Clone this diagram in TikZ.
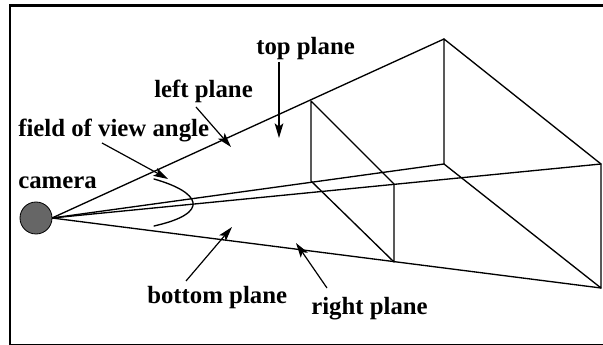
\documentclass[tikz,border=0pt]{standalone}
\usepackage{fontspec}
\setmainfont{Liberation Serif}
\usepackage{tikz}
\usetikzlibrary{arrows.meta}
\definecolor{cameragray}{RGB}{102, 102, 102}
\tikzset{
  planelabel/.style={anchor=base west, inner sep=0pt, font=\fontsize{18.6}{20}\selectfont\bfseries},
  edgeline/.style={line width=1pt, line cap=round, line join=round},
  pointer/.style={-{Stealth[length=11pt, width=6.5pt, inset=2.5pt]}, line width=0.9pt}
}

\begin{document}
\begin{tikzpicture}[x=0.75pt, y=-0.75pt]

  \useasboundingbox (0, 0) rectangle (603, 345);

  % Frame
  \draw[line width=1.6pt] (10, 345) -- (10, 5.5);
  \draw[line width=2.5pt] (9, 5.5) -- (603, 5.5);
  \draw[line width=0.9pt] (10, 344.2) -- (603, 344.2);

  % Frustum corners
  \coordinate (apex) at (52, 218);
  \coordinate (nearTL) at (311, 101);
  \coordinate (nearBL) at (311, 181);
  \coordinate (nearTR) at (394, 184);
  \coordinate (nearBR) at (394, 262);
  \coordinate (farTL) at (444, 39);
  \coordinate (farBL) at (444, 164);
  \coordinate (farTR) at (601, 164);
  \coordinate (farBR) at (601, 288);

  % Rays from the camera
  \draw[edgeline] (apex) -- (farTL);
  \draw[edgeline] (apex) -- (farBL);
  \draw[edgeline] (apex) -- (farTR);
  \draw[edgeline] (apex) -- (farBR);

  % Near plane
  \draw[edgeline] (nearTL) -- (nearBL) -- (nearBR) -- (nearTR) -- cycle;

  % Far plane
  \draw[edgeline] (farTL) -- (farBL) -- (farBR) -- (farTR) -- cycle;

  % Camera
  \node[circle, draw, fill=cameragray, line width=0.6pt, minimum size=24pt, inner sep=0pt] (camera) at (36, 218) {};

  % Angle
  \draw[edgeline] (154, 179) .. controls (200, 192) and (212, 213) .. (154, 226);

  % Labels
  \node[planelabel] (topLabel) at (256, 55) {top plane};
  \node[planelabel] (leftLabel) at (154, 98) {left plane};
  \node[planelabel] (angleLabel) at (18, 137) {field of view angle};
  \node[planelabel] (cameraLabel) at (18, 189) {camera};
  \node[planelabel] (bottomLabel) at (147, 303) {bottom plane};
  \node[planelabel] (rightLabel) at (311, 315) {right plane};

  % Pointer ends
  \coordinate (topFrom) at (279, 62);
  \coordinate (topTip) at (279, 138);
  \coordinate (leftFrom) at (196, 107);
  \coordinate (leftTip) at (231, 147);
  \coordinate (angleFrom) at (102, 143);
  \coordinate (angleTip) at (168, 179);
  \coordinate (bottomFrom) at (186, 281);
  \coordinate (bottomTip) at (232, 227);
  \coordinate (rightFrom) at (327, 288);
  \coordinate (rightTip) at (296, 243);

  % Pointers
  \draw[pointer] (topFrom) -- (topTip);
  \draw[pointer] (leftFrom) -- (leftTip);
  \draw[pointer] (angleFrom) -- (angleTip);
  \draw[pointer] (bottomFrom) -- (bottomTip);
  \draw[pointer] (rightFrom) -- (rightTip);

\end{tikzpicture}
\end{document}
